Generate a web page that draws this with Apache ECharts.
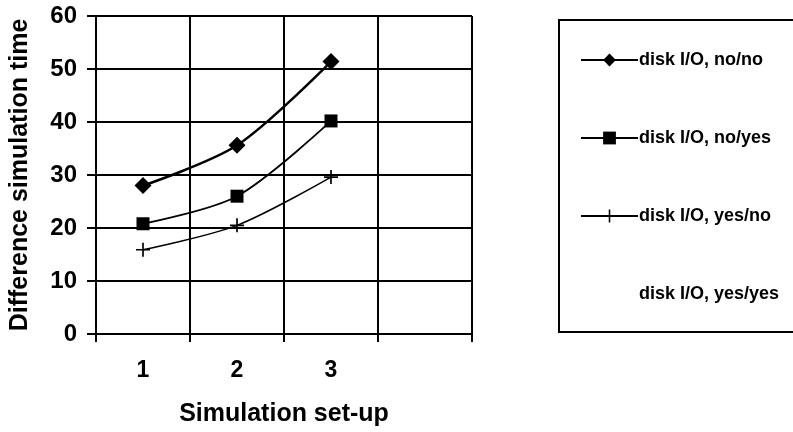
<!DOCTYPE html>
<html>
<head>
<meta charset="utf-8">
<script src="https://cdn.jsdelivr.net/npm/echarts@6/dist/echarts.min.js"></script>
<style>
  html, body { margin: 0; padding: 0; background: #fff; }
  #main { width: 793px; height: 432px; }
</style>
</head>
<body>
<div id="main"></div>
<script>
// simulation set-ups (4th column left empty as in the original)
var setups = ['1', '2', '3', ''];
var yTicks = [0, 10, 20, 30, 40, 50, 60];

// difference in simulation time per set-up
var noNo = [28, 35.6, 51.4];
var noYes = [20.8, 26, 40.2];
var yesNo = [15.9, 20.5, 29.6];
var yesYes = [];

var names = ['disk I/O, no/no', 'disk I/O, no/yes', 'disk I/O, yes/no', 'disk I/O, yes/yes'];

var plus = 'path://M4.4,0h1.2v4.4h4.4v1.2h-4.4v4.4h-1.2v-4.4h-4.4v-1.2h4.4z';
var font = '"Liberation Sans", Arial, sans-serif';

var myChart = echarts.init(document.getElementById('main'));
var option = {
    animation: false,
    backgroundColor: '#fff',
    grid: { left: 96, right: 321, top: 16, bottom: 97 },
    // legend frame, runs off the right edge like the original
    graphic: [{
        type: 'rect',
        shape: { x: 559, y: 20, width: 300, height: 312 },
        style: { fill: 'none', stroke: '#000', lineWidth: 2 },
        silent: true
    }],
    legend: {
        orient: 'vertical',
        left: 580,
        top: 51,
        padding: 0,
        itemGap: 60,
        itemWidth: 57,
        itemHeight: 16,
        textStyle: { fontFamily: font, fontWeight: 'bold', fontSize: 18, color: '#000', padding: [0, 0, 0, -4] },
        data: [
            { name: names[0] },
            { name: names[1] },
            { name: names[2] },
            { name: names[3], icon: 'none' }
        ]
    },
    xAxis: {
        type: 'category',
        data: setups,
        boundaryGap: true,
        name: 'Simulation set-up',
        nameLocation: 'middle',
        nameGap: 68,
        nameTextStyle: { fontFamily: font, fontWeight: 'bold', fontSize: 25, color: '#000' },
        axisLine: { lineStyle: { color: '#000', width: 2 } },
        axisTick: { show: true, length: 8, lineStyle: { color: '#000', width: 2 } },
        axisLabel: { margin: 25, fontFamily: font, fontWeight: 'bold', fontSize: 23, color: '#000' },
        splitLine: { show: true, lineStyle: { color: '#000', width: 2 } }
    },
    yAxis: {
        type: 'value',
        min: yTicks[0],
        max: yTicks[yTicks.length - 1],
        interval: 10,
        name: 'Difference simulation time',
        nameLocation: 'middle',
        nameGap: 63,
        nameTextStyle: { fontFamily: font, fontWeight: 'bold', fontSize: 25, color: '#000' },
        axisLine: { show: true, lineStyle: { color: '#000', width: 2 } },
        axisTick: { show: true, length: 9, lineStyle: { color: '#000', width: 2 } },
        axisLabel: { margin: 19, fontFamily: font, fontWeight: 'bold', fontSize: 24, color: '#000' },
        splitLine: { show: true, lineStyle: { color: '#000', width: 2 } }
    },
    series: [
        {
            name: names[0], type: 'line', data: noNo, smooth: 0.3,
            symbol: 'diamond', symbolSize: 17,
            lineStyle: { color: '#000', width: 2.5 },
            itemStyle: { color: '#000' }
        },
        {
            name: names[1], type: 'line', data: noYes, smooth: 0.3,
            symbol: 'rect', symbolSize: 13,
            lineStyle: { color: '#000', width: 1.8 },
            itemStyle: { color: '#000' }
        },
        {
            name: names[2], type: 'line', data: yesNo, smooth: 0.3,
            symbol: plus, symbolSize: 14,
            lineStyle: { color: '#000', width: 1.5 },
            itemStyle: { color: '#000' }
        },
        {
            name: names[3], type: 'line', data: yesYes,
            symbol: 'none',
            lineStyle: { color: '#fff', width: 0 },
            itemStyle: { color: '#fff' }
        }
    ]
};
myChart.setOption(option);
</script>
</body>
</html>
